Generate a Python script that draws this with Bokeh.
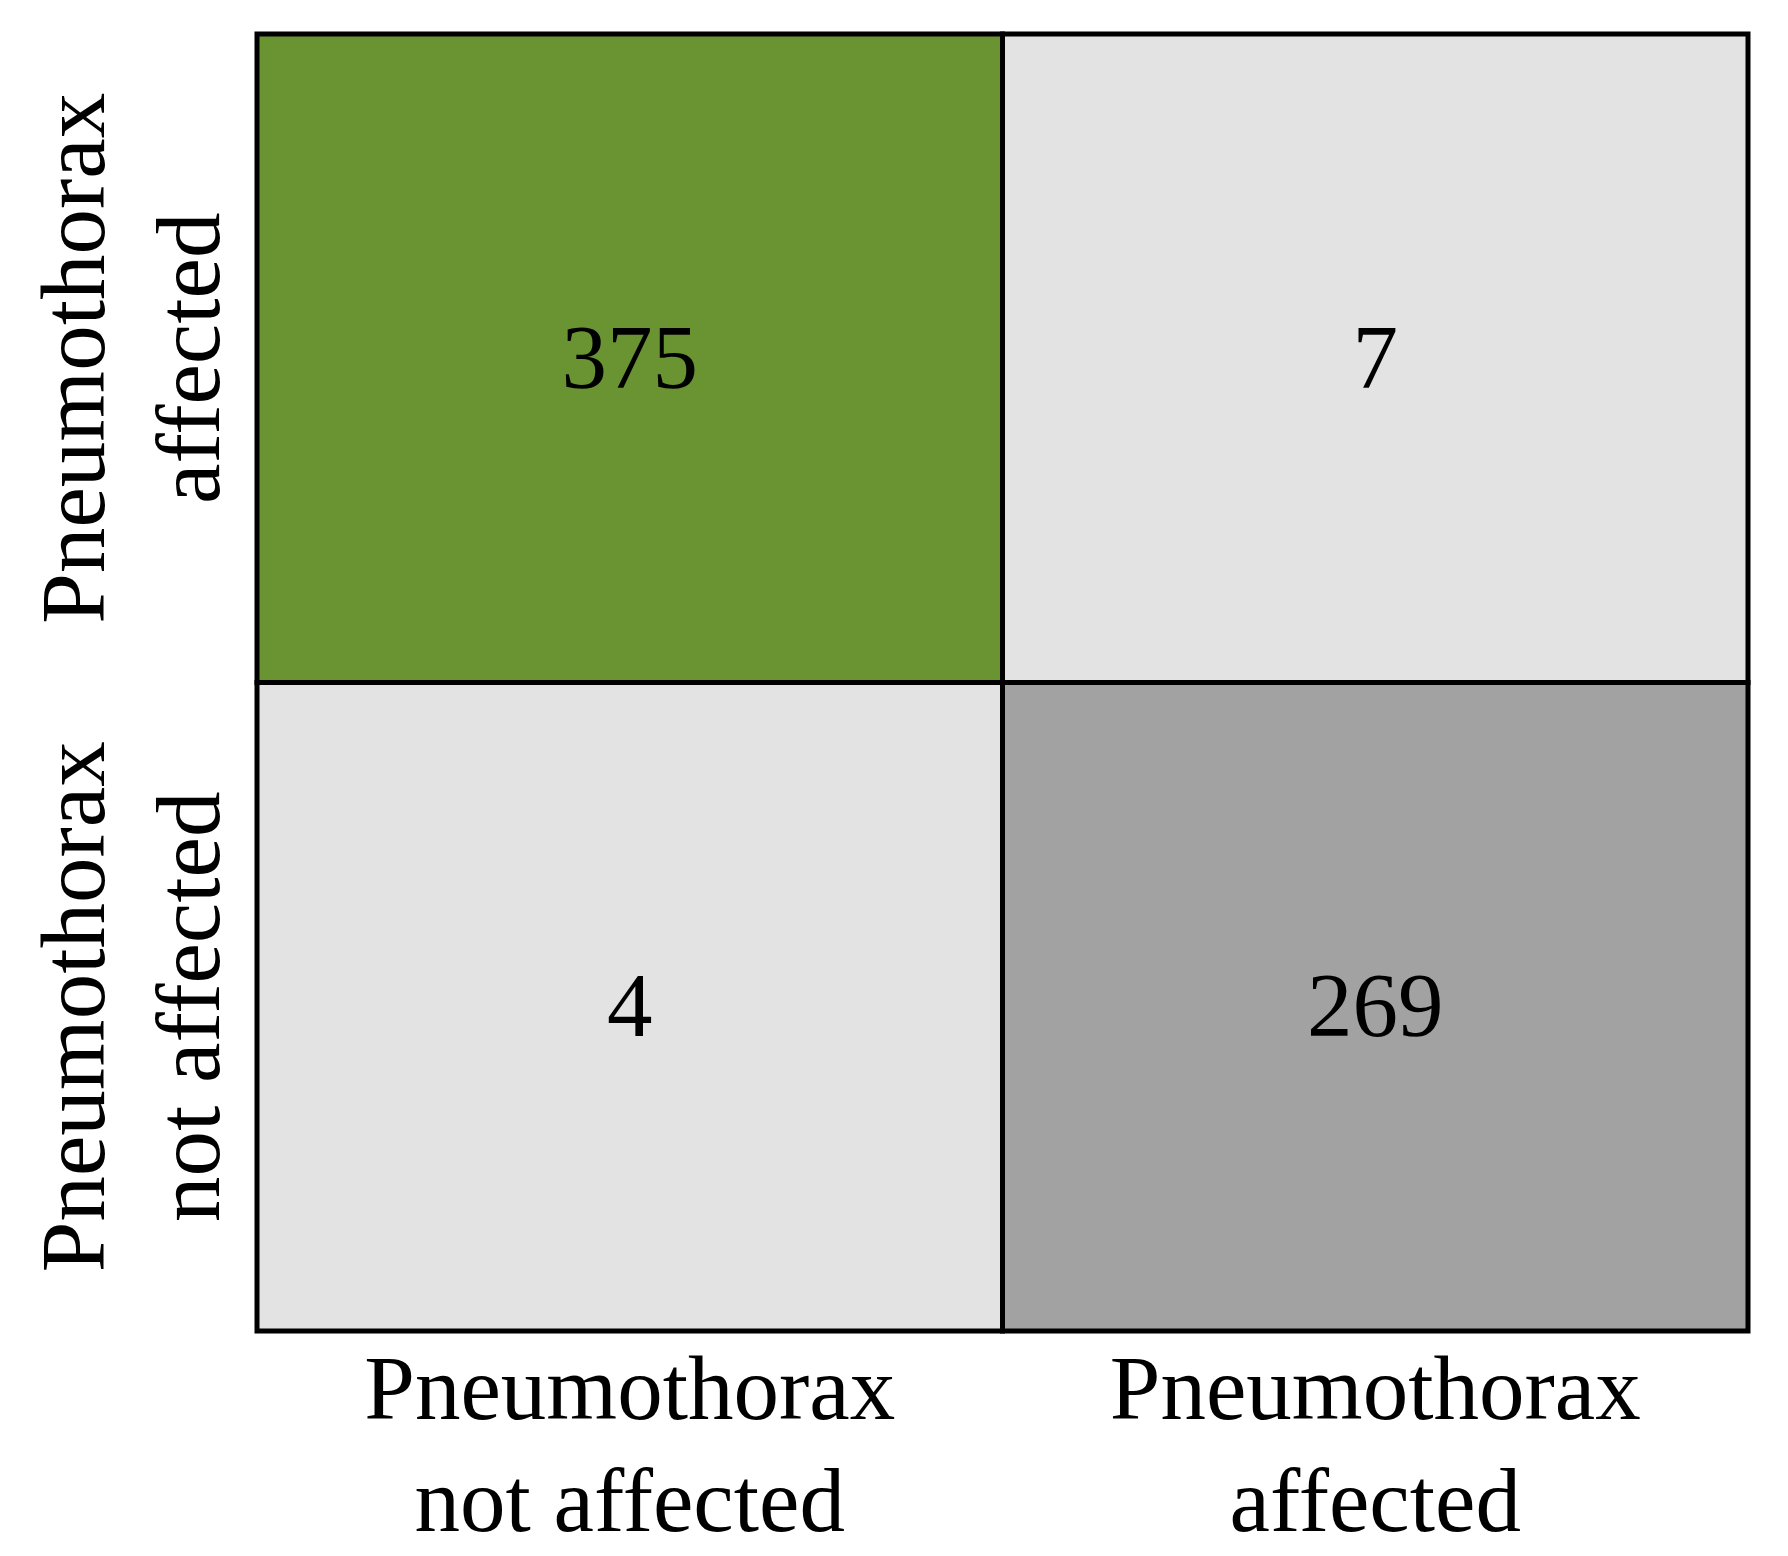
import math
from bokeh.plotting import figure
from bokeh.models import Range1d, ColumnDataSource
from bokeh.core.properties import value
from bokeh.embed import file_html
from bokeh.resources import INLINE

# ---- data ----
x_labels = ["Pneumothorax\nnot affected", "Pneumothorax\naffected"]   # columns, left to right
y_labels = ["Pneumothorax\nnot affected", "Pneumothorax\naffected"]   # rows, bottom to top
counts_bottom_row = [4, 269]
counts_top_row = [375, 7]

# ---- styles ----
palette_bottom_row = ["#e3e3e3", "#a2a2a2"]
palette_top_row = ["#6a9332", "#e3e3e3"]
FONT = value("Liberation Serif")
FONT_SIZE = "91px"
BASE_FIX = 33  # renderer places alphabetic baseline lower than requested

# ---- layout (pixels inside figure) ----
W, H = 1772, 1556
g_left, g_right, g_top, g_bottom = 256.5, 1747.5, 33.5, 1330.5
cw = (g_right - g_left) / len(x_labels)
ch = (g_bottom - g_top) / len(y_labels)

p = figure(width=W, height=H,
           x_range=Range1d(-g_left / cw, (W - g_left) / cw),
           y_range=Range1d(-(H - g_bottom) / ch, len(y_labels) + g_top / ch),
           output_backend="svg", toolbar_location=None,
           x_axis_location=None, y_axis_location=None,
           min_border=0, outline_line_color=None)
p.grid.visible = False
p.background_fill_color = "white"
p.border_fill_color = "white"

rows = [counts_bottom_row, counts_top_row]
pals = [palette_bottom_row, palette_top_row]
left, right, bottom, top, fill, cx, cy, txt = [], [], [], [], [], [], [], []
for j, row in enumerate(rows):
    for i, v in enumerate(row):
        left.append(i); right.append(i + 1)
        bottom.append(j); top.append(j + 1)
        fill.append(pals[j][i])
        cx.append(i + 0.5); cy.append(j + 0.5); txt.append(str(v))

src = ColumnDataSource(dict(left=left, right=right, bottom=bottom, top=top,
                            fill=fill, cx=cx, cy=cy, txt=txt))
p.quad(left="left", right="right", bottom="bottom", top="top", source=src,
       fill_color="fill", line_color="black", line_width=5, line_join="miter")
p.text(x="cx", y="cy", text="txt", source=src, text_font=FONT,
       text_font_size=FONT_SIZE, text_align="center",
       text_baseline="alphabetic", y_offset=32.5 - BASE_FIX, text_color="black")

# x-axis labels (below grid)
for i, lab in enumerate(x_labels):
    for k, line in enumerate(lab.split("\n")):
        p.text(x=[i + 0.5], y=[0], text=[line], text_font=FONT,
               text_font_size=FONT_SIZE, text_align="center",
               text_baseline="alphabetic", y_offset=90.5 + 112 * k - BASE_FIX,
               text_color="black")

# y-axis labels (left of grid, rotated)
line_px = [g_left - 106 + BASE_FIX, g_left - 221 + BASE_FIX]
for j, lab in enumerate(y_labels):
    for k, line in enumerate(lab.split("\n")):
        p.text(x=[-line_px[k] / cw], y=[j + 0.5], text=[line], text_font=FONT,
               text_font_size=FONT_SIZE, text_align="center",
               text_baseline="alphabetic", angle=math.pi / 2,
               text_color="black")

open("out.html", "w").write(file_html(p, INLINE))
